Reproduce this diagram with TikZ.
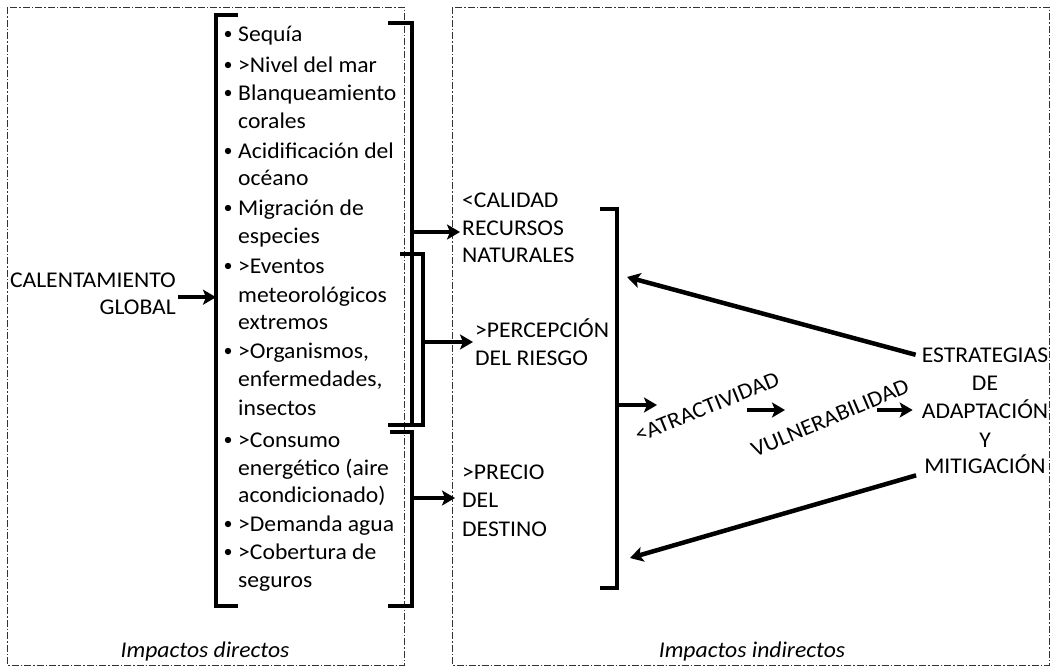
\documentclass[tikz,border=0pt]{standalone}
\usepackage{fontspec}
\setmainfont{Carlito}[FakeStretch=1.05]
\usepackage{tikz}
\usetikzlibrary{arrows.meta,calc}
\tikzset{
  frame/.style={line width=0.8pt,black!80,dash pattern=on 7pt off 2pt on 1.5pt off 2pt},
  brk/.style={line width=3.5pt},
  arr/.style={line width=4.5pt,-{Stealth[length=13pt,width=15pt,inset=3pt]}},
  txt/.style={font=\fontsize{22.5}{26}\selectfont,inner sep=2pt},
  itm/.style={txt,anchor=base west},
  ctr/.style={txt,anchor=base},
  lbl/.style={font=\fontsize{22.5}{26}\selectfont\itshape,anchor=base},
}

\begin{document}
\begin{tikzpicture}[x=1pt,y=-1pt]
  \useasboundingbox (0,0) rectangle (1055,667);
  % frames
  \draw[frame] (7,7) rectangle (404,665);
  \draw[frame] (452,7) rectangle (1049,665);
  % cause
  \node[txt,anchor=base east] (cal1) at (178,287) {CALENTAMIENTO};
  \node[txt,anchor=base east] (cal2) at (178,314) {GLOBAL};
  % direct impacts
  \foreach \y/\t [count=\i] in {41/Sequía,72/{>Nivel del mar},100/Blanqueamiento,128/corales,
      158/{Acidificación del},185/océano,215/{Migración de},243/especies,273/{>Eventos},
      302/meteorológicos,329/extremos,358/{>Organismos,},386/{enfermedades,},415/insectos,
      447/{>Consumo},475/{energético (aire},502/{acondicionado)},531/{>Demanda agua},
      559/{>Cobertura de},587/seguros} {
    \node[itm] (d\i) at (236,\y) {\t};
  }
  \foreach \y in {41,72,100,158,215,273,358,447,531,559}
    \fill (228,\y-7) circle (3.2pt);
  % brackets
  \draw[brk] (238,15) -- (216,15) -- (216,606) -- (238,606);
  \draw[brk] (388,23) -- (412,23) -- (412,425);
  \draw[brk] (400,254) -- (423,254) -- (423,425) -- (388,425);
  \draw[brk] (390,432) -- (412,432) -- (412,606) -- (388,606);
  \draw[brk] (600,209) -- (617,209) -- (617,588) -- (600,588);
  \coordinate (bl) at (216,299);
  \coordinate (b1) at (412,232);
  \coordinate (b2) at (423,342);
  \coordinate (b3) at (412,498);
  \coordinate (br) at (617,405);
  \coordinate (bu) at (627,277);
  \coordinate (bd) at (630,558);
  % indirect impacts
  \node[itm] (cal) at (460,207) {<CALIDAD};
  \node[itm] (rec) at (460,235) {RECURSOS};
  \node[itm] (nat) at (460,262) {NATURALES};
  \node[itm] (per1) at (473,337) {>PERCEPCIÓN};
  \node[itm] (per2) at (473,365) {DEL RIESGO};
  \node[itm] (pre1) at (460,479) {>PRECIO};
  \node[itm] (pre2) at (460,507) {DEL};
  \node[itm] (pre3) at (460,536) {DESTINO};
  \node[txt,rotate=22] (atr) at (707,407) {<ATRACTIVIDAD};
  \node[txt,rotate=23] (vul) at (830,418) {VULNERABILIDAD};
  \coordinate (a1) at (657,405);
  \coordinate (a2) at (747,410);
  \coordinate (a3) at (785,410);
  \coordinate (a4) at (877,410);
  % strategies
  \foreach \y/\t/\n in {362/ESTRATEGIAS/est,390/DE/de,418/ADAPTACIÓN/ada,447/Y/y,473/MITIGACIÓN/mit}
    \node[ctr] (\n) at (985,\y) {\t};
  % arrows
  \draw[arr] (cal2.north east) -- (cal2.north east -| bl);
  \draw[arr] (b1) -- (b1 -| rec.west);
  \draw[arr] (b2) -- (b2 -| per1.west);
  \draw[arr,shorten >=5pt] (b3) -- (b3 -| pre2.west);
  \draw[arr] (br) -- (a1);
  \draw[arr] (a2) -- (a3);
  \draw[arr,shorten >=7pt] (a4) -- (a4 -| ada.west);
  \draw[arr] ([xshift=-4pt]est.west) -- (bu);
  \draw[arr] ([xshift=-6pt]mit.south west) -- (bd);
  % captions
  \node[lbl] (dir) at (205,657) {Impactos directos};
  \node[lbl] (ind) at (752,657) {Impactos indirectos};
\end{tikzpicture}
\end{document}
